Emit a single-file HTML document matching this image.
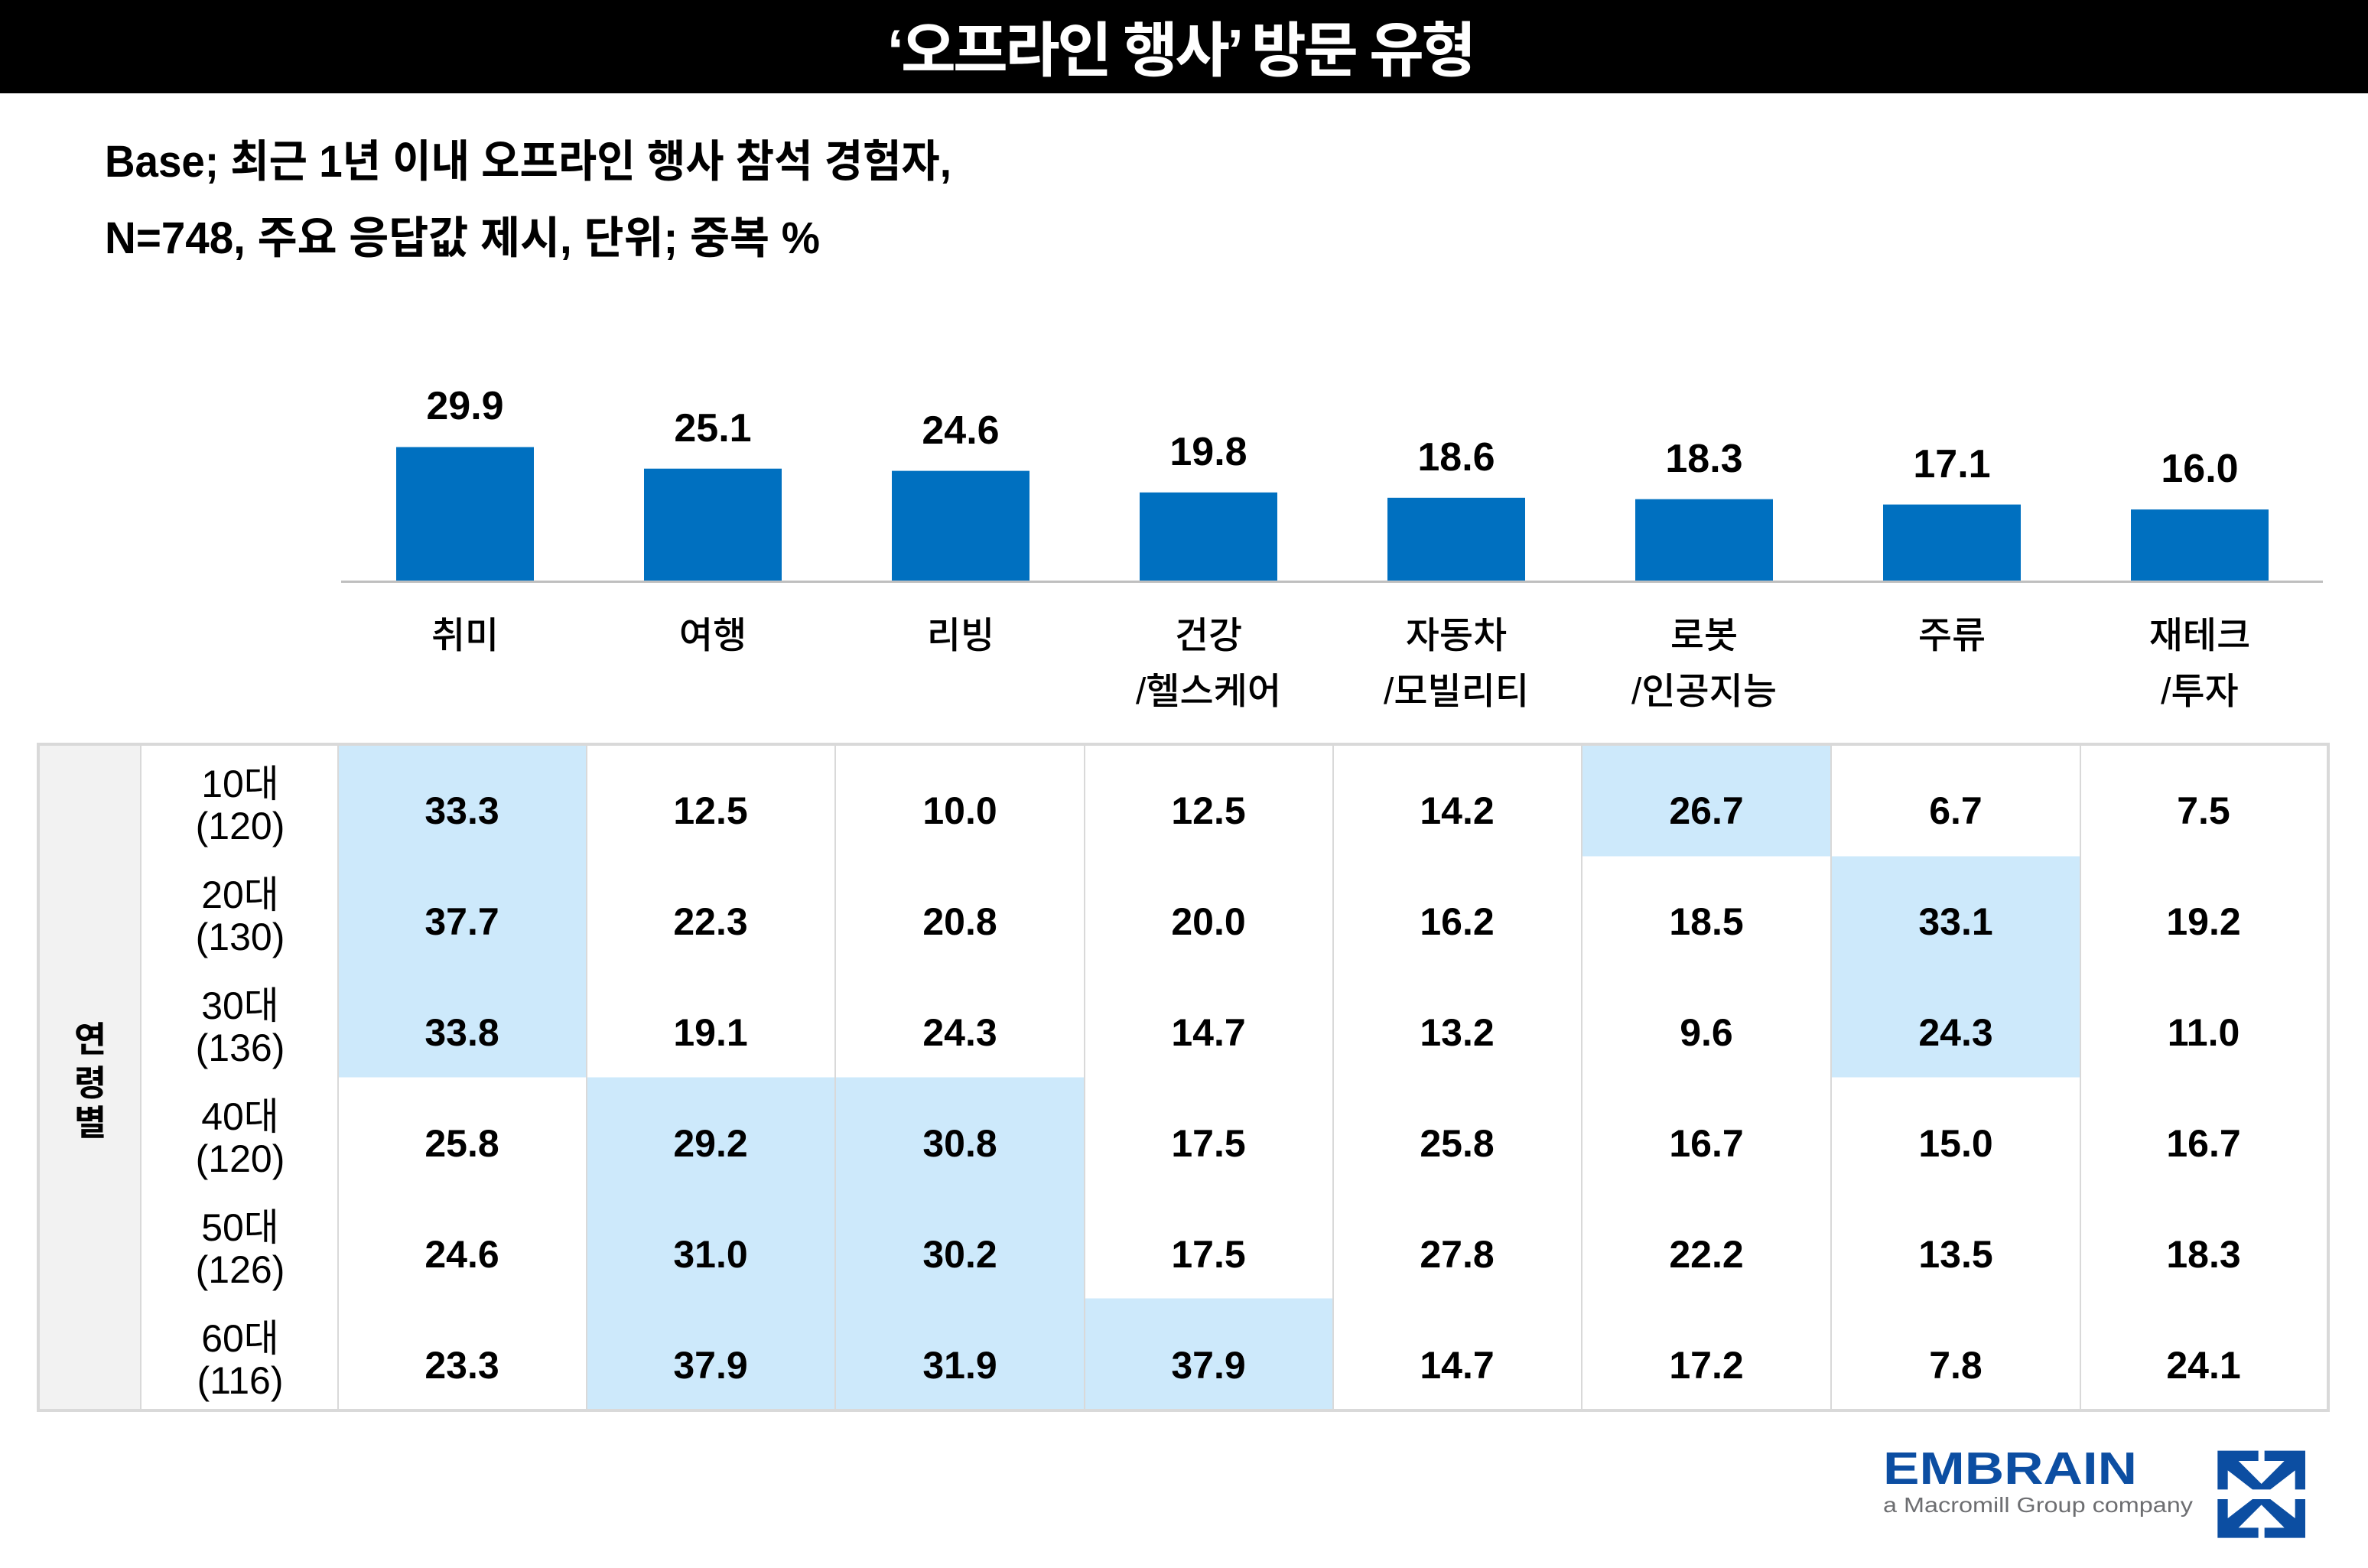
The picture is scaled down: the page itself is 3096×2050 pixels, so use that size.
<!DOCTYPE html>
<html>
<head>
<meta charset="utf-8">
<style>
  html, body { margin: 0; padding: 0; background: #ffffff; }
  svg { display: block; }
  text { font-family: "Liberation Sans", "Noto Sans CJK KR", sans-serif; }
</style>
</head>
<body>
<svg xmlns="http://www.w3.org/2000/svg" width="3096" height="2050" viewBox="0 0 3096 2050">
  <rect x="0" y="0" width="3096" height="2050" fill="#ffffff"/>
  <!-- Header -->
  <rect x="0" y="0" width="3096" height="122" fill="#000000"/>
  <text x="1160" y="93" font-size="78" font-weight="700" fill="#ffffff" textLength="770" lengthAdjust="spacing">‘오프라인 행사’ 방문 유형</text>

  <!-- Subtitle -->
  <text x="137" y="231" font-size="58" font-weight="700" fill="#000" textLength="1107" lengthAdjust="spacingAndGlyphs">Base; 최근 1년 이내 오프라인 행사 참석 경험자,</text>
  <text x="137" y="331" font-size="58" font-weight="700" fill="#000" textLength="935" lengthAdjust="spacingAndGlyphs">N=748, 주요 응답값 제시, 단위; 중복 %</text>

  <!-- Bars -->
  <g fill="#0070c0">
    <rect x="518" y="584.5" width="180" height="175.5"/>
    <rect x="842" y="612.7" width="180" height="147.3"/>
    <rect x="1166" y="615.6" width="180" height="144.4"/>
    <rect x="1490" y="643.8" width="180" height="116.2"/>
    <rect x="1814" y="650.8" width="180" height="109.2"/>
    <rect x="2138" y="652.6" width="180" height="107.4"/>
    <rect x="2462" y="659.6" width="180" height="100.4"/>
    <rect x="2786" y="666.1" width="180" height="93.9"/>
  </g>
  <rect x="446" y="759" width="2591" height="3" fill="#bfbfbf"/>

  <!-- Bar value labels -->
  <g font-size="52" font-weight="700" fill="#000" text-anchor="middle">
    <text x="608" y="548">29.9</text>
    <text x="932" y="577">25.1</text>
    <text x="1256" y="580">24.6</text>
    <text x="1580" y="608">19.8</text>
    <text x="1904" y="615">18.6</text>
    <text x="2228" y="617">18.3</text>
    <text x="2552" y="624">17.1</text>
    <text x="2876" y="630">16.0</text>
  </g>

  <!-- Category labels -->
  <g font-size="48" font-weight="500" fill="#000" text-anchor="middle">
    <text x="608" y="847">취미</text>
    <text x="932" y="847">여행</text>
    <text x="1256" y="847">리빙</text>
    <text x="1580" y="847">건강</text>
    <text x="1580" y="920">/헬스케어</text>
    <text x="1904" y="847">자동차</text>
    <text x="1904" y="920">/모빌리티</text>
    <text x="2228" y="847">로봇</text>
    <text x="2228" y="920">/인공지능</text>
    <text x="2552" y="847">주류</text>
    <text x="2876" y="847">재테크</text>
    <text x="2876" y="920">/투자</text>
  </g>

  <!-- Table -->
  <rect x="52" y="975" width="132" height="867" fill="#f2f2f2"/>
  <g fill="#cde9fb">
    <rect x="442" y="975" width="325" height="433.5"/>
    <rect x="767" y="1408.5" width="325" height="433.5"/>
    <rect x="1092" y="1408.5" width="326" height="433.5"/>
    <rect x="1418" y="1697.5" width="325" height="144.5"/>
    <rect x="2068" y="975" width="326" height="144.5"/>
    <rect x="2394" y="1119.5" width="326" height="289"/>
  </g>
  <g fill="#d9d9d9">
    <rect x="183" y="975" width="2" height="867"/>
    <rect x="441" y="975" width="2" height="867"/>
    <rect x="766" y="975" width="2" height="867"/>
    <rect x="1091" y="975" width="2" height="867"/>
    <rect x="1417" y="975" width="2" height="867"/>
    <rect x="1742" y="975" width="2" height="867"/>
    <rect x="2067" y="975" width="2" height="867"/>
    <rect x="2393" y="975" width="2" height="867"/>
    <rect x="2719" y="975" width="2" height="867"/>
  </g>
  <rect x="50" y="973" width="2994" height="871" fill="none" stroke="#d9d9d9" stroke-width="4"/>

  <!-- Vertical group label -->
  <g font-size="46" font-weight="700" fill="#000" text-anchor="middle">
    <text x="118" y="1375">연</text>
    <text x="118" y="1432">령</text>
    <text x="118" y="1484">별</text>
  </g>

  <!-- Age labels -->
  <g font-size="50" font-weight="400" fill="#000" text-anchor="middle">
    <text x="314" y="1042">10대</text>
    <text x="314" y="1097">(120)</text>
    <text x="314" y="1187">20대</text>
    <text x="314" y="1242">(130)</text>
    <text x="314" y="1332">30대</text>
    <text x="314" y="1387">(136)</text>
    <text x="314" y="1477">40대</text>
    <text x="314" y="1532">(120)</text>
    <text x="314" y="1622">50대</text>
    <text x="314" y="1677">(126)</text>
    <text x="314" y="1767">60대</text>
    <text x="314" y="1822">(116)</text>
  </g>

  <!-- Table values -->
  <g font-size="50" font-weight="700" fill="#000" text-anchor="middle">
    <text x="604" y="1077">33.3</text>
    <text x="929" y="1077">12.5</text>
    <text x="1255" y="1077">10.0</text>
    <text x="1580" y="1077">12.5</text>
    <text x="1905" y="1077">14.2</text>
    <text x="2231" y="1077">26.7</text>
    <text x="2557" y="1077">6.7</text>
    <text x="2881" y="1077">7.5</text>

    <text x="604" y="1222">37.7</text>
    <text x="929" y="1222">22.3</text>
    <text x="1255" y="1222">20.8</text>
    <text x="1580" y="1222">20.0</text>
    <text x="1905" y="1222">16.2</text>
    <text x="2231" y="1222">18.5</text>
    <text x="2557" y="1222">33.1</text>
    <text x="2881" y="1222">19.2</text>

    <text x="604" y="1367">33.8</text>
    <text x="929" y="1367">19.1</text>
    <text x="1255" y="1367">24.3</text>
    <text x="1580" y="1367">14.7</text>
    <text x="1905" y="1367">13.2</text>
    <text x="2231" y="1367">9.6</text>
    <text x="2557" y="1367">24.3</text>
    <text x="2881" y="1367">11.0</text>

    <text x="604" y="1512">25.8</text>
    <text x="929" y="1512">29.2</text>
    <text x="1255" y="1512">30.8</text>
    <text x="1580" y="1512">17.5</text>
    <text x="1905" y="1512">25.8</text>
    <text x="2231" y="1512">16.7</text>
    <text x="2557" y="1512">15.0</text>
    <text x="2881" y="1512">16.7</text>

    <text x="604" y="1657">24.6</text>
    <text x="929" y="1657">31.0</text>
    <text x="1255" y="1657">30.2</text>
    <text x="1580" y="1657">17.5</text>
    <text x="1905" y="1657">27.8</text>
    <text x="2231" y="1657">22.2</text>
    <text x="2557" y="1657">13.5</text>
    <text x="2881" y="1657">18.3</text>

    <text x="604" y="1802">23.3</text>
    <text x="929" y="1802">37.9</text>
    <text x="1255" y="1802">31.9</text>
    <text x="1580" y="1802">37.9</text>
    <text x="1905" y="1802">14.7</text>
    <text x="2231" y="1802">17.2</text>
    <text x="2557" y="1802">7.8</text>
    <text x="2881" y="1802">24.1</text>
  </g>

  <!-- Logo -->
  <text x="2462" y="1940" font-size="59" font-weight="700" fill="#0c4ea2" textLength="332" lengthAdjust="spacingAndGlyphs">EMBRAIN</text>
  <text x="2462" y="1977" font-size="28" font-weight="400" fill="#6d6e71" textLength="405" lengthAdjust="spacingAndGlyphs">a Macromill Group company</text>
  <g transform="translate(2890,1890) scale(0.33333)" fill="#0c4ea2">
    <polygon points="28,20 188,20 188,60 110,60 200,150 290,60 212,60 212,20 372,20 372,172 332,172 332,97 235,172 165,172 68,97 68,172 28,172"/>
    <polygon points="28,362 188,362 188,322 110,322 200,232 290,322 212,322 212,362 372,362 372,210 332,210 332,285 235,210 165,210 68,285 68,210 28,210"/>
  </g>
</svg>
</body>
</html>
